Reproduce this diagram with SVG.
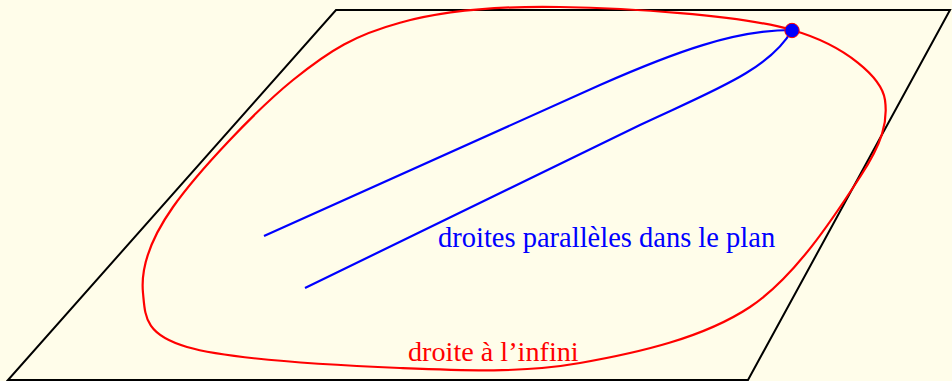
<svg xmlns="http://www.w3.org/2000/svg" width="952" height="381" viewBox="0 0 952 381">
<style>
.plane{fill:none;stroke:#000;stroke-width:2;stroke-linejoin:miter}
.inf{fill:none;stroke:#ff0000;stroke-width:2.2}
.par{fill:none;stroke:#0000ff;stroke-width:2.2}
.lbl{font-family:"Liberation Serif","Times New Roman",serif}
</style>
<rect x="0" y="0" width="952" height="381" fill="#fffdea"/>
<g id="plan">
<path class="plane" d="M336,10 L950,10 L748,380 L8,380 Z"/>
</g>
<g id="connectors">
<path id="droite-infini" class="inf" d="M560,7 C625.3,8.2 737.8,14.5 792,30 C846.2,45.5 882,78 885,100 C888,122 882.5,142.5 860,177 C837.5,211.5 796.7,276 750,307 C703.3,338 638.3,352.8 580,363 C521.7,373.2 465.5,370.7 400,368 C334.5,365.3 229.8,359.5 187,347 C144.2,334.5 145.3,316.3 143,293 C140.7,269.7 148,242.5 173,207 C198,171.5 255.2,110.7 293,80 C330.8,49.3 355.5,34.9 400,22.7 C444.5,10.5 494.7,5.8 560,7 Z"/>
<path id="parallele1" class="par" d="M264,236 L600,85 C675,52 735,30 792,30"/>
<path id="parallele2" class="par" d="M305,288 L640,125 C710,92 770,70 792,30"/>
</g>
<g id="point-infini">
<circle cx="792" cy="30.5" r="7.2" fill="#0000ff" stroke="#ff0000" stroke-width="1"/>
</g>
<g id="label-paralleles">
<text class="lbl" x="438" y="247" font-size="28.5" fill="#0000ff">droites parallèles dans le plan</text>
</g>
<g id="label-infini">
<text class="lbl" x="408" y="361" font-size="28.2" fill="#ff0000">droite à l’infini</text>
</g>
</svg>
